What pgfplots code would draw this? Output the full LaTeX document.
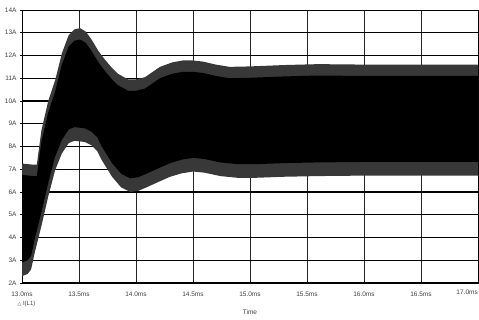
\documentclass[border=0pt]{standalone}
\usepackage{pgfplots}
\pgfplotsset{compat=1.18}
\usepgfplotslibrary{fillbetween}
\usepackage{fontspec}
\setmainfont{Liberation Sans}
\newfontfamily\dejavu{DejaVu Sans}
\begin{document}
\begin{tikzpicture}
\begin{axis}[
  scale only axis, width=456pt, height=273pt,
  xmin=13, xmax=17, ymin=2, ymax=14,
  xtick={13,13.5,14,14.5,15,15.5,16,16.5,17},
  xticklabels={13.0ms,13.5ms,14.0ms,14.5ms,15.0ms,15.5ms,16.0ms,16.5ms,{}},
  ytick={2,3,4,5,6,7,8,9,10,11,12,13},
  yticklabels={2A,3A,4A,5A,6A,7A,8A,9A,10A,11A,12A,13A},
  extra y ticks={14}, extra y tick labels={14A},
  extra y tick style={grid=none},
  grid=major,
  y grid style={black, line width=1.3pt},
  x grid style={black!85, line width=0.7pt},
  axis line style={black, line width=0.6pt},
  tick label style={font=\fontsize{6.5}{7}\selectfont, text=black!75},
  xtick style={draw=none},
  ytick style={black, line width=0.5pt},
  tick align=outside, major tick length=2pt,
  xticklabel style={anchor=center, yshift=-9pt},
  xlabel={Time},
  xlabel style={at={(axis description cs:0.5,0)}, anchor=center, yshift=-29pt, font=\fontsize{6.5}{7}\selectfont, text=black!75},
]
% outer envelope
\addplot[name path=U, draw=none] coordinates {
(13.00,7.25)(13.10,7.2)(13.13,7.2)(13.17,8.7)(13.23,10.0)(13.29,10.9)(13.35,12.1)(13.41,12.9)(13.46,13.15)(13.51,13.2)(13.56,13.05)(13.61,12.7)(13.67,12.2)(13.73,11.8)(13.79,11.45)(13.84,11.2)(13.93,10.95)(14.00,10.95)(14.08,11.05)(14.21,11.5)(14.32,11.7)(14.41,11.78)(14.50,11.78)(14.59,11.73)(14.70,11.6)(14.82,11.5)(15.0,11.52)(15.3,11.58)(15.6,11.62)(16.0,11.6)(16.5,11.6)(17.0,11.6)};
\addplot[name path=L, draw=none] coordinates {
(13.00,2.3)(13.05,2.4)(13.08,2.6)(13.11,3.3)(13.17,4.5)(13.23,5.8)(13.29,6.95)(13.35,7.7)(13.41,8.15)(13.46,8.25)(13.55,8.2)(13.61,8.05)(13.66,7.8)(13.70,7.4)(13.79,6.67)(13.87,6.2)(13.95,6.0)(14.02,6.05)(14.09,6.2)(14.20,6.45)(14.30,6.67)(14.40,6.82)(14.50,6.9)(14.60,6.85)(14.74,6.7)(14.90,6.62)(15.03,6.62)(15.3,6.67)(15.6,6.7)(16.0,6.72)(16.5,6.72)(17.0,6.72)};
\addplot[black!78] fill between[of=U and L];
% inner dense core
\addplot[name path=UI, draw=none] coordinates {
(13.00,6.75)(13.10,6.7)(13.13,6.7)(13.17,8.2)(13.23,9.5)(13.29,10.4)(13.35,11.6)(13.41,12.4)(13.46,12.65)(13.51,12.7)(13.56,12.55)(13.61,12.2)(13.67,11.7)(13.73,11.3)(13.79,10.95)(13.84,10.7)(13.93,10.45)(14.00,10.45)(14.08,10.55)(14.21,11.0)(14.32,11.2)(14.41,11.28)(14.50,11.28)(14.59,11.23)(14.70,11.1)(14.82,11.0)(15.0,11.02)(15.3,11.08)(15.6,11.12)(16.0,11.1)(16.5,11.1)(17.0,11.1)};
\addplot[name path=LI, draw=none] coordinates {
(13.00,2.9)(13.05,3.0)(13.08,3.2)(13.11,3.9)(13.17,5.1)(13.23,6.4)(13.29,7.55)(13.35,8.3)(13.41,8.75)(13.46,8.85)(13.55,8.8)(13.61,8.65)(13.66,8.4)(13.70,8.0)(13.79,7.27)(13.87,6.8)(13.95,6.6)(14.02,6.65)(14.09,6.8)(14.20,7.05)(14.30,7.27)(14.40,7.42)(14.50,7.5)(14.60,7.45)(14.74,7.3)(14.90,7.22)(15.03,7.22)(15.3,7.27)(15.6,7.3)(16.0,7.32)(16.5,7.32)(17.0,7.32)};
\addplot[black] fill between[of=UI and LI];
\end{axis}
\node[anchor=east, inner sep=0pt, font=\fontsize{6.5}{7}\selectfont, text=black!75] at ([yshift=-9pt]current axis.south east) {17.0ms};
\node[anchor=west, font=\fontsize{6}{7}\selectfont, text=black!75] at ([xshift=-8pt,yshift=-21pt]current axis.south west) {{\dejavu\fontsize{5}{6}\selectfont △}\ I(L1)};
\pgfresetboundingbox
\path[use as bounding box] ([xshift=-22pt,yshift=-37pt]current axis.south west) rectangle ([xshift=1pt,yshift=10pt]current axis.north east);
\end{tikzpicture}
\end{document}
